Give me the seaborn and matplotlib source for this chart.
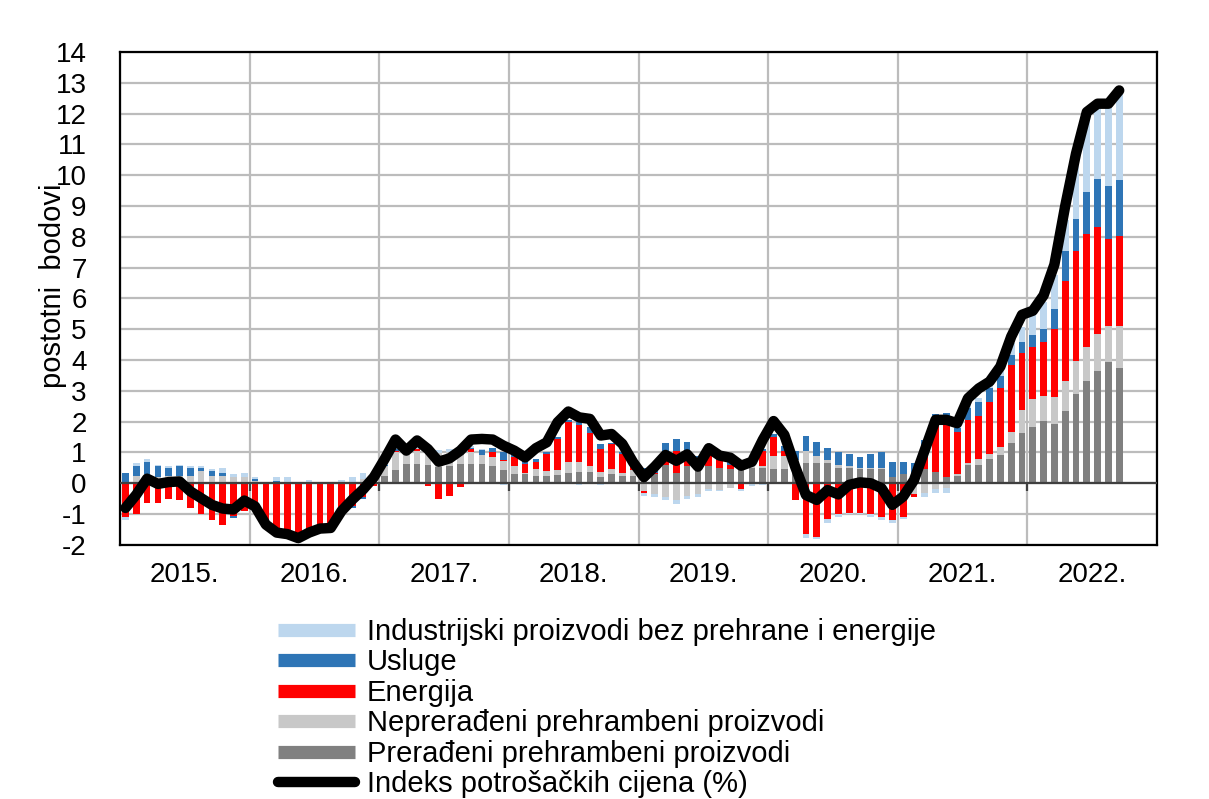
import numpy as np
import pandas as pd
import matplotlib
matplotlib.use("Agg")
import matplotlib.pyplot as plt
import seaborn as sns
from matplotlib.lines import Line2D

# monthly data, Jan 2015 - Sep 2022 (postotni bodovi)
years = ["2015.", "2016.", "2017.", "2018.", "2019.", "2020.", "2021.", "2022."]

cpi = [-0.8, -0.37, 0.15, -0.02, 0.04, 0.06, -0.26, -0.48, -0.7, -0.82, -0.85, -0.56,
       -0.75, -1.34, -1.6, -1.65, -1.78, -1.6, -1.47, -1.45, -0.9, -0.53, -0.2, 0.2,
       0.79, 1.42, 1.06, 1.39, 1.11, 0.7, 0.81, 1.06, 1.42, 1.44, 1.42, 1.22,
       1.06, 0.84, 1.14, 1.33, 1.98, 2.33, 2.14, 2.09, 1.55, 1.6, 1.28, 0.68,
       0.2, 0.54, 0.92, 0.73, 0.94, 0.54, 1.14, 0.9, 0.83, 0.57, 0.7, 1.41,
       2.02, 1.57, 0.54, -0.38, -0.54, -0.22, -0.36, -0.05, 0.03, 0.0, -0.16, -0.7,
       -0.43, 0.1, 1.08, 2.06, 2.06, 1.95, 2.76, 3.08, 3.3, 3.79, 4.76, 5.47,
       5.6, 6.1, 7.1, 9.0, 10.7, 12.05, 12.32, 12.32, 12.75]

processed = [0.0, 0.0, 0.05, 0.05, 0.05, 0.05, 0.05, 0.05, 0.0, 0.05, 0.05, 0.05,
             0.02, 0.0, 0.0, 0.0, 0.0, 0.0, 0.0, 0.0, 0.0, 0.0, 0.05, 0.1,
             0.25, 0.44, 0.63, 0.63, 0.6, 0.52, 0.57, 0.63, 0.63, 0.63, 0.57, 0.44,
             0.3, 0.3, 0.25, 0.25, 0.27, 0.33, 0.38, 0.36, 0.2, 0.3, 0.25, 0.23,
             0.2, 0.3, 0.6, 0.35, 0.55, 0.5, 0.55, 0.5, 0.45, 0.45, 0.5, 0.5,
             0.45, 0.45, 0.55, 0.65, 0.65, 0.65, 0.5, 0.5, 0.45, 0.45, 0.45, 0.2,
             0.3, 0.25, 0.45, 0.38, 0.2, 0.25, 0.6, 0.6, 0.8, 0.92, 1.3, 1.62,
             1.82, 2.03, 1.93, 2.36, 2.9, 3.33, 3.63, 3.93, 3.73]

unprocessed = [0.05, 0.25, 0.25, 0.15, 0.2, 0.2, 0.2, 0.35, 0.25, 0.2, 0.15, 0.15,
               0.05, 0.05, 0.05, 0.05, 0.0, 0.02, 0.02, 0.0, 0.02, 0.05, 0.1, 0.1,
               0.3, 0.56, 0.32, 0.43, 0.36, 0.45, 0.45, 0.38, 0.38, 0.28, 0.27, 0.28,
               0.27, 0.05, 0.2, 0.16, 0.17, 0.37, 0.3, 0.2, 0.16, 0.16, 0.1, 0.2,
               -0.25, -0.35, -0.45, -0.55, -0.42, -0.35, -0.2, -0.22, -0.15, 0.05, 0.1, 0.05,
               0.45, 0.45, 0.2, 0.4, 0.25, 0.1, 0.1, 0.05, 0.05, 0.05, 0.05, 0.0,
               0.0, -0.35, -0.3, -0.2, -0.15, 0.05, 0.05, 0.2, 0.15, 0.27, 0.38, 0.76,
               0.92, 0.81, 0.87, 0.97, 1.08, 1.08, 1.22, 1.19, 1.39]

energy = [-1.1, -1.0, -0.65, -0.65, -0.5, -0.55, -0.8, -1.0, -1.2, -1.35, -1.05, -0.9,
          -0.9, -1.3, -1.55, -1.55, -1.65, -1.55, -1.4, -1.4, -0.95, -0.75, -0.45, -0.1,
          0.0, 0.05, 0.0, 0.05, -0.08, -0.5, -0.4, -0.13, 0.1, 0.0, 0.16, 0.05,
          0.27, 0.27, 0.24, 0.54, 1.0, 1.28, 1.2, 1.08, 0.75, 0.8, 0.6, 0.1,
          -0.05, 0.05, 0.35, 0.7, 0.4, 0.1, 0.4, 0.25, 0.15, -0.2, 0.05, 0.5,
          0.6, 0.15, -0.55, -1.65, -1.75, -1.15, -1.0, -0.95, -0.95, -1.0, -1.1, -1.2,
          -1.1, -0.1, 0.45, 1.68, 1.93, 1.35, 1.4, 1.4, 1.7, 1.9, 2.16, 1.84,
          1.68, 1.73, 2.22, 3.25, 3.57, 3.68, 3.46, 2.81, 2.92]

services = [0.3, 0.3, 0.4, 0.35, 0.25, 0.3, 0.25, 0.1, 0.15, 0.1, -0.08, 0.0,
            0.08, 0.0, 0.02, 0.0, 0.0, 0.0, 0.0, 0.0, 0.0, -0.05, -0.05, 0.0,
            0.05, 0.05, 0.0, 0.0, 0.0, 0.0, 0.0, 0.0, 0.05, 0.16, 0.16, 0.24,
            0.12, 0.12, 0.1, 0.06, 0.06, 0.06, 0.1, 0.2, 0.16, 0.05, 0.05, 0.0,
            0.3, 0.3, 0.35, 0.38, 0.38, 0.3, 0.2, 0.15, 0.15, 0.05, 0.05, 0.05,
            0.1, 0.15, 0.3, 0.5, 0.45, 0.4, 0.4, 0.4, 0.35, 0.45, 0.5, 0.5,
            0.38, 0.4, 0.5, 0.2, 0.16, 0.16, 0.38, 0.43, 0.43, 0.38, 0.32, 0.35,
            0.38, 0.43, 0.65, 0.97, 1.03, 1.35, 1.57, 1.71, 1.79]

industrial = [-0.08, 0.1, 0.1, 0.05, 0.05, 0.05, 0.05, 0.05, 0.05, 0.15, 0.1, 0.15,
              0.05, 0.0, 0.15, 0.15, 0.05, 0.08, 0.03, 0.0, 0.1, 0.15, 0.2, 0.15,
              0.05, 0.05, 0.05, 0.05, 0.03, 0.1, 0.1, 0.05, 0.05, 0.03, 0.0, -0.05,
              0.0, 0.0, 0.0, 0.0, 0.0, 0.0, -0.05, 0.0, -0.05, 0.0, 0.0, 0.0,
              -0.1, -0.1, -0.1, -0.12, -0.1, -0.08, -0.05, -0.02, 0.0, -0.05, -0.1, -0.05,
              0.0, 0.0, 0.0, -0.12, -0.05, -0.15, -0.1, -0.05, -0.05, -0.1, -0.1, -0.1,
              -0.05, 0.0, -0.15, -0.1, -0.15, 0.1, 0.1, 0.15, 0.15, 0.3, 0.38, 0.5,
              0.65, 0.87, 1.08, 1.0, 1.84, 2.6, 2.38, 2.62, 2.81]

labels = ["Industrijski proizvodi bez prehrane i energije",
          "Usluge",
          "Energija",
          "Neprerađeni prehrambeni proizvodi",
          "Prerađeni prehrambeni proizvodi",
          "Indeks potrošačkih cijena (%)"]

colors = {"industrial": "#bdd7ee", "services": "#2e75b6", "energy": "#ff0000",
          "unprocessed": "#c8c8c8", "processed": "#808080"}

sns.set_style("white")
plt.rcParams["font.family"] = ["Liberation Sans", "DejaVu Sans"]
plt.rcParams["text.color"] = "black"
plt.rcParams["axes.labelcolor"] = "black"
plt.rcParams["xtick.color"] = "black"
plt.rcParams["ytick.color"] = "black"

n = len(cpi)
df = pd.DataFrame({"month": np.arange(n), "cpi": cpi})

fig, ax = plt.subplots(figsize=(12.09, 7.99), dpi=100)
fig.subplots_adjust(left=0.0993, right=0.957, top=0.935, bottom=0.318)

# stacked bars: positives upward, negatives downward, same order
pos_base = np.zeros(n)
neg_base = np.zeros(n)
stack = [(processed, colors["processed"]), (unprocessed, colors["unprocessed"]),
         (energy, colors["energy"]), (services, colors["services"]),
         (industrial, colors["industrial"])]
for vals, col in stack:
    v = np.array(vals)
    base = np.where(v >= 0, pos_base, neg_base)
    ax.bar(df["month"], v, bottom=base, width=0.62, color=col, linewidth=0, zorder=2)
    pos_base += np.clip(v, 0, None)
    neg_base += np.clip(v, None, 0)

sns.lineplot(data=df, x="month", y="cpi", color="black", linewidth=7.5, ax=ax,
             zorder=4, solid_joinstyle="round", solid_capstyle="round")

# axes
ax.set_xlim(-0.5, 12 * len(years) - 0.5)
ax.set_ylim(-2, 14)
ax.set_yticks(range(-2, 15))
ax.set_yticklabels([str(t) for t in range(-2, 15)])
edges = np.arange(len(years) + 1) * 12 - 0.5
ax.set_xticks(edges)
ax.set_xticklabels([])
ax.set_xticks(edges[:-1] + 6, minor=True)
ax.set_xticklabels(years, minor=True)
ax.tick_params(axis="x", which="both", length=0, labelsize=20, pad=12)
ax.tick_params(axis="y", length=0, labelsize=20, pad=24)
ax.grid(True, which="major", color="#bcbcbc", linewidth=1.6, zorder=0)
ax.set_axisbelow(True)
ax.axhline(0, color="#404040", linewidth=1.6, zorder=3)
ax.vlines(edges[1:-1], -0.25, 0, color="#404040", linewidth=1.6, zorder=3)
for s in ax.spines.values():
    s.set_color("black")
    s.set_linewidth(1.6)
ax.set_xlabel("")
ax.set_ylabel("postotni  bodovi", fontsize=21)
ax.yaxis.set_label_coords(-0.051, 0.525)

handles = [Line2D([0], [0], color=colors["industrial"], lw=9.5, solid_capstyle="butt"),
           Line2D([0], [0], color=colors["services"], lw=9.5, solid_capstyle="butt"),
           Line2D([0], [0], color=colors["energy"], lw=9.5, solid_capstyle="butt"),
           Line2D([0], [0], color=colors["unprocessed"], lw=9.5, solid_capstyle="butt"),
           Line2D([0], [0], color=colors["processed"], lw=9.5, solid_capstyle="butt"),
           Line2D([0], [0], color="black", lw=7.5, solid_capstyle="round")]
fig.legend(handles, labels, loc="upper left", bbox_to_anchor=(278 / 1209, 1 - 618 / 799),
           frameon=False, fontsize=21, handlelength=2.65, handletextpad=0.4,
           labelspacing=0.085, borderpad=0, borderaxespad=0)

fig.savefig("out.png", dpi=100)
